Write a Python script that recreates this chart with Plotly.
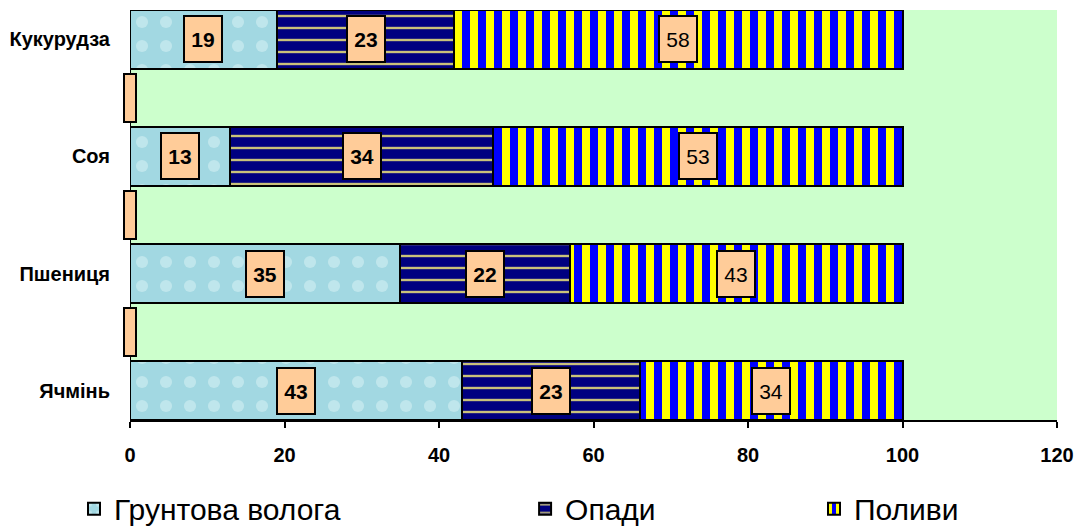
import plotly.graph_objects as go

# ---- data ----
categories = ["Ячмінь", " ", "Пшениця", "  ", "Соя", "   ", "Кукурудза"]
soil_moisture = [43, 0, 35, 0, 13, 0, 19]
precipitation = [23, 0, 22, 0, 34, 0, 23]
irrigation = [34, 0, 43, 0, 53, 0, 58]
series_names = ["Грунтова волога", "Опади", "Поливи"]
x_ticks = [0, 20, 40, 60, 80, 100, 120]

FONT = "Liberation Sans, Arial, sans-serif"
LABEL_BG = "#FFCC99"

styles = [
    dict(color="#A9DCE5", pattern=dict(shape=".", fgcolor="#BFE6EC", bgcolor="#A2D8E2", size=24, solidity=0.2, fillmode="replace")),
    dict(color="#000080", pattern=dict(shape="-", fgcolor="#C9C27A", bgcolor="#000080", size=12, solidity=0.2, fillmode="replace")),
    dict(color="#0000FF", pattern=dict(shape="|", fgcolor="#FFFF00", bgcolor="#0000FF", size=16, solidity=0.5, fillmode="replace")),
]
legend_ids = ["legend", "legend2", "legend3"]
legend_x = [0.0688, 0.488, 0.7565]

fig = go.Figure()
all_series = [soil_moisture, precipitation, irrigation]
for name, vals, st, lg in zip(series_names, all_series, styles, legend_ids):
    fig.add_trace(go.Bar(
        y=categories, x=vals, name=name, orientation="h",
        marker=dict(color=st["color"], pattern=st["pattern"], line=dict(color="#000000", width=2)),
        legend=lg, showlegend=True, hoverinfo="x+y+name",
    ))

annotations = []
cum = [0] * len(categories)
for si, vals in enumerate(all_series):
    for ci, v in enumerate(vals):
        if v > 0:
            annotations.append(dict(
                x=cum[ci] + v / 2, y=categories[ci], xref="x", yref="y",
                xanchor="center", yanchor="middle",
                text=("<b>%d</b>" % v) if si < 2 else str(v),
                showarrow=False, font=dict(family=FONT, size=21, color="#000000"),
                bgcolor=LABEL_BG, bordercolor="#000000", borderwidth=2, borderpad=1,
                width=34, height=42,
            ))
        cum[ci] += v
# zero-value labels for empty categories
for ci, cat in enumerate(categories):
    if cum[ci] == 0:
        annotations.append(dict(
            x=0, y=cat, xref="x", yref="y", xanchor="center", yanchor="middle",
            text=" ", showarrow=False,
            bgcolor=LABEL_BG, bordercolor="#000000", borderwidth=2, borderpad=1,
            width=8, height=44, font=dict(size=6),
        ))

legend_common = dict(xref="container", yref="container", y=0.033, xanchor="left", yanchor="middle",
                     orientation="h", font=dict(family=FONT, size=30, color="#000000"),
                     bgcolor="rgba(0,0,0,0)", visible=True)

fig.update_layout(
    barmode="stack", bargap=0,
    width=1076, height=526,
    showlegend=True,
    margin=dict(l=130, r=19, t=10, b=106, autoexpand=False),
    paper_bgcolor="#FFFFFF", plot_bgcolor="#CCFFCC",
    font=dict(family=FONT, color="#000000"),
    annotations=annotations,
    legend=dict(x=legend_x[0], **legend_common),
    legend2=dict(x=legend_x[1], **legend_common),
    legend3=dict(x=legend_x[2], **legend_common),
    xaxis=dict(range=[0, 120], tickvals=x_ticks, showgrid=False, zeroline=False,
               showline=True, linecolor="#000000", linewidth=2,
               ticks="outside", ticklen=6, tickwidth=2, tickcolor="#000000",
               ticklabelstandoff=10,
               tickfont=dict(family=FONT, size=20, color="#000000", weight="bold")),
    yaxis=dict(categoryorder="array", categoryarray=categories, showgrid=False,
               zeroline=False, showline=False, ticks="", ticklabelstandoff=19,
               tickfont=dict(family=FONT, size=20, color="#000000", weight="bold")),
)

fig.write_html("out.html", config={"displayModeBar": False},
               post_script="document.body.style.margin='0px';")
